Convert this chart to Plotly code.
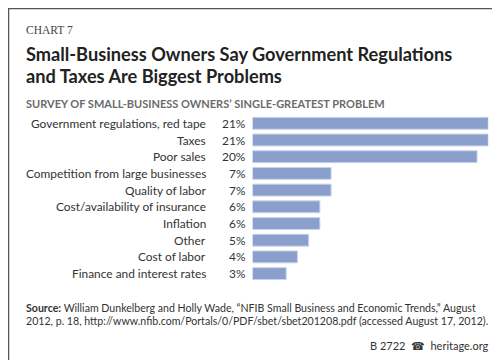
import plotly.graph_objects as go

categories = ["Government regulations, red tape", "Taxes", "Poor sales",
              "Competition from large businesses", "Quality of labor",
              "Cost/availability of insurance", "Inflation", "Other",
              "Cost of labor", "Finance and interest rates"]
values = [21, 21, 20, 7, 7, 6, 6, 5, 4, 3]

W, H = 500, 360
FONT = "Lato"
TXT = "#333333"

x0p, x1p = 244.5, 480.3
ytop, ybot = 105.8, 275.1

fig = go.Figure()
fig.add_trace(go.Bar(
    x=values, y=categories, orientation="h",
    marker=dict(color="#8A9FCB", line=dict(color="#C9D3EA", width=1)),
    hoverinfo="skip",
))

fig.update_layout(
    width=W, height=H,
    margin=dict(l=0, r=0, t=0, b=0),
    paper_bgcolor="white", plot_bgcolor="white",
    showlegend=False, bargap=0.29,
    xaxis=dict(domain=[x0p / W, x1p / W], range=[0, 21], visible=False, fixedrange=True),
    yaxis=dict(domain=[1 - ybot / H, 1 - ytop / H], categoryorder="array",
               categoryarray=categories, autorange="reversed", visible=False),
    font=dict(family=FONT, color=TXT),
)

ann = []
for c, v in zip(categories, values):
    ann.append(dict(x=200 / W, xref="paper", y=c, yref="y", text=c, showarrow=False,
                    xanchor="right", yanchor="middle", font=dict(size=11.9, color=TXT, family=FONT)))
    ann.append(dict(x=238.5 / W, xref="paper", y=c, yref="y", text=f"{v}%", showarrow=False,
                    xanchor="right", yanchor="middle", font=dict(size=11.9, color=TXT, family=FONT)))

def ptext(x, y, text, size, color=TXT, family=FONT, anchor="left"):
    return dict(x=x / W, y=1 - y / H, xref="paper", yref="paper", text=text, showarrow=False,
                xanchor=anchor, yanchor="middle", font=dict(size=size, color=color, family=family))

ann.append(ptext(16, 21.7, "CHART 7", 11.5, color="#444444", family="Liberation Serif"))
ann.append(ptext(16, 45.5, "<b>Small-Business Owners Say Government Regulations</b>", 18.2, color="#222222"))
ann.append(ptext(16, 67.5, "<b>and Taxes Are Biggest Problems</b>", 18.2, color="#222222"))
ann.append(ptext(16, 95.7, "<b>SURVEY OF SMALL-BUSINESS OWNERS’ SINGLE-GREATEST PROBLEM</b>", 11.0, color="#6b6b6b"))
ann.append(ptext(16, 300, "<b>Source:</b> William Dunkelberg and Holly Wade, “NFIB Small Business and Economic Trends,” August", 10.6))
ann.append(ptext(16, 312.5, "2012, p. 18, http://www.nfib.com/Portals/0/PDF/sbet/sbet201208.pdf (accessed August 17, 2012).", 10.6))
ann.append(ptext(483, 337.5, "B 2722  <span style='font-family:DejaVu Sans'>☎</span>  heritage.org", 11, anchor="right"))

fig.update_layout(annotations=ann)
fig.add_shape(type="rect", xref="paper", yref="paper", x0=0, y0=0, x1=1, y1=1,
              line=dict(color="#555555", width=2.5), fillcolor="rgba(0,0,0,0)")

fig.write_html("out.html", config={"displayModeBar": False})
